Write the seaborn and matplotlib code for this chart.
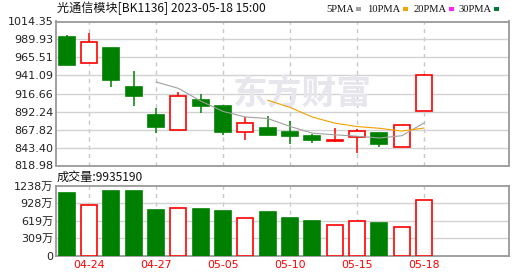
import numpy as np
import pandas as pd
import matplotlib
matplotlib.use("Agg")
import matplotlib.pyplot as plt
from matplotlib.patches import Rectangle
import seaborn as sns

# ---- data ----
dates = ["04-21", "04-24", "04-25", "04-26", "04-27", "04-28", "05-04", "05-05",
         "05-08", "05-09", "05-10", "05-11", "05-12", "05-15", "05-16", "05-17", "05-18"]
opens = [993.0, 957.4, 978.1, 925.2, 887.2, 867.8, 907.6, 899.4,
         865.1, 869.5, 864.1, 858.7, 852.8, 858.3, 862.4, 844.7, 893.6]
highs = [995.8, 998.5, 978.1, 946.9, 896.7, 918.4, 915.7, 899.4,
         884.9, 886.8, 879.5, 861.4, 869.2, 868.6, 862.4, 874.6, 942.8]
lows = [955.5, 957.4, 925.6, 899.8, 863.2, 867.8, 890.3, 861.0,
        854.2, 860.5, 848.8, 849.6, 851.5, 836.6, 844.2, 844.7, 892.5]
closes = [955.5, 985.9, 935.1, 913.4, 871.3, 912.6, 899.8, 864.5,
          876.0, 860.5, 859.1, 854.2, 853.5, 866.4, 848.3, 874.6, 941.1]
volumes_wan = [1118, 893, 1148, 1148, 809, 839, 827, 791,
               661, 773, 666, 613, 541, 613, 577, 500, 993.5]
price_ticks = [818.98, 843.40, 867.82, 892.24, 916.66, 941.09, 965.51, 989.93, 1014.35]
vol_ticks = [0, 309.5, 619, 928.5, 1238]
vol_tick_labels = ["0", "309万", "619万", "928万", "1238万"]
date_tick_idx = [1, 4, 7, 10, 13, 16]
ma_windows = [5, 10]
ma_colors = ["#a0a0a0", "#f0a000"]
legend_labels = ["5PMA", "10PMA", "20PMA", "30PMA"]
legend_colors = ["#a0a0a0", "#f4a300", "#ff22ff", "#007a33"]

sns.set_theme(style="white")
plt.rcParams['font.family'] = ['DejaVu Sans', 'Noto Sans CJK SC']

GREEN = "#008000"
RED = "#ff0000"
GRID = "#d2d2d2"
FRAME = "#999999"
TXT = "#222222"

W, H = 530, 276
fig = plt.figure(figsize=(W / 100, H / 100), dpi=100)
fig.patch.set_facecolor("white")

def px_axes(l, t, r, b):
    return fig.add_axes([l / W, 1 - b / H, (r - l) / W, (b - t) / H])

axp = px_axes(56, 21.5, 509, 165.5)
axv = px_axes(56, 186, 509, 255.5)

idx = np.arange(len(dates))
df = pd.DataFrame({"i": idx, "open": opens, "high": highs, "low": lows,
                   "close": closes, "vol": volumes_wan})
up = df["close"] >= df["open"]
xlim = (-0.48, 19.8)
bw = 0.72

for ax in (axp, axv):
    ax.set_facecolor("white")
    for s in ax.spines.values():
        s.set_color(FRAME)
        s.set_linewidth(1.3)
    ax.set_xlim(*xlim)
    ax.tick_params(axis="both", length=0, pad=2, labelsize=8, colors=TXT)
    for x in date_tick_idx:
        ax.axvline(x, color="#c8c8c8", lw=1, ls=(0, (3, 3)), zorder=0)

# ---- price panel ----
axp.set_ylim(price_ticks[0], price_ticks[-1])
axp.set_yticks(price_ticks)
axp.set_yticklabels([f"{t:.2f}" for t in price_ticks])
for t in price_ticks[1:-1]:
    axp.axhline(t, color=GRID, lw=1, zorder=0)
axp.set_xticks([])

axp.text(0.545, 0.50, "东方财富", transform=axp.transAxes, ha="center", va="center",
         fontsize=25, fontweight="bold", color="#e6e6ec", family=["Noto Sans CJK SC"],
         zorder=0.5)

for _, r in df.iterrows():
    i = r["i"]
    is_up = r["close"] >= r["open"]
    col = RED if is_up else GREEN
    axp.vlines(i, r["low"], r["high"], color=col, lw=1.1, zorder=2)
    lo = min(r["open"], r["close"])
    hgt = max(abs(r["close"] - r["open"]), 0.6)
    axp.bar(i, hgt, bottom=lo, width=bw,
            facecolor="white" if is_up else GREEN, edgecolor=col, lw=1.2, zorder=3)

for w, c in zip(ma_windows, ma_colors):
    ma = df["close"].rolling(w).mean()
    sns.lineplot(x=df["i"], y=ma, ax=axp, color=c, linewidth=0.8, zorder=4)
axp.set_xlabel("")
axp.set_ylabel("")

# ---- volume panel ----
sns.barplot(x=df["i"], y=df["vol"], ax=axv, native_scale=True, width=bw,
            color=GREEN, saturation=1, zorder=3)
patches = sorted(axv.patches, key=lambda p: p.get_x())
for p, u in zip(patches, up):
    if u:
        p.set_facecolor("white")
        p.set_edgecolor(RED)
    else:
        p.set_facecolor(GREEN)
        p.set_edgecolor(GREEN)
    p.set_linewidth(1.2)
axv.set_xlim(*xlim)
axv.set_ylim(0, 1238)
axv.set_yticks(vol_ticks)
axv.set_yticklabels(vol_tick_labels)
for t in vol_ticks[1:-1]:
    axv.axhline(t, color=GRID, lw=1, zorder=0)
axv.set_xticks(date_tick_idx)
axv.set_xticklabels([dates[i] for i in date_tick_idx], color=RED, fontsize=7.8)
axv.tick_params(axis="x", pad=3)
axv.set_xlabel("")
axv.set_ylabel("")

# ---- texts ----
fig.text(57 / W, 1 - 8.5 / H, "光通信模块[BK1136] 2023-05-18 15:00", ha="left", va="center",
         fontsize=8.7, color="#111111", family=["Noto Sans CJK SC", "DejaVu Sans"])
fig.text(57 / W, 1 - 177 / H, "成交量:9935190", ha="left", va="center",
         fontsize=8.7, color="#111111", family=["Noto Sans CJK SC", "DejaVu Sans"])

fig.canvas.draw()
renderer = fig.canvas.get_renderer()
lx = [326, 367, 413, 458]
for x, lab, c in zip(lx, legend_labels, legend_colors):
    t = fig.text(x / W, 1 - 9 / H, lab, ha="left", va="center", fontsize=7.6,
                 color="#111111", family=["Liberation Serif"])
    bb = t.get_window_extent(renderer)
    m = bb.x1 + 2.5
    fig.patches.append(Rectangle((m / W, 1 - 10.5 / H), 5 / W, 3 / H,
                                 transform=fig.transFigure, facecolor=c,
                                 edgecolor="none"))

fig.savefig("out.png", dpi=100, facecolor="white")
